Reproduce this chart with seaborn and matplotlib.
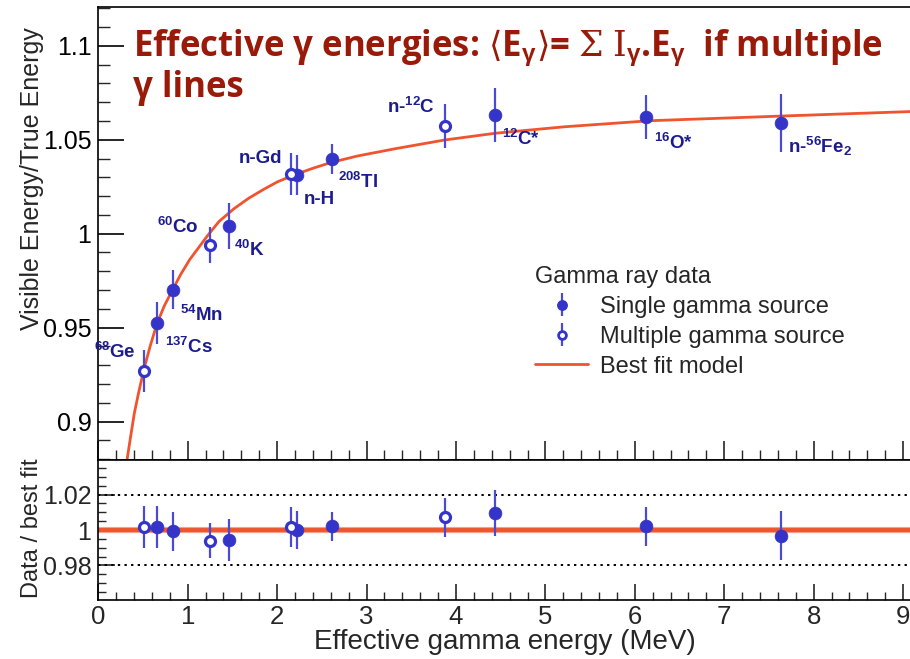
import numpy as np
import pandas as pd
import matplotlib
matplotlib.use("Agg")
import matplotlib.pyplot as plt
from matplotlib.ticker import MultipleLocator, FixedLocator, FuncFormatter
import seaborn as sns

# ---------------- data ----------------
sources = ["68Ge", "137Cs", "54Mn", "60Co", "40K", "n-Gd", "n-H", "208Tl",
           "n-12C", "12C*", "16O*", "n-56Fe2"]
energy = [0.511, 0.662, 0.835, 1.25, 1.461, 2.16, 2.223, 2.614, 3.88, 4.44, 6.13, 7.64]
multiple = [True, False, False, True, False, True, False, False, True, False, False, False]
vis_ratio = [0.9271, 0.9527, 0.9701, 0.9940, 1.0041, 1.0316, 1.0312, 1.0397,
             1.0574, 1.0632, 1.0620, 1.0589]
vis_err = [0.0111, 0.0112, 0.0104, 0.0097, 0.0121, 0.0112, 0.0106, 0.0082,
           0.0116, 0.0142, 0.0117, 0.0152]
data_over_fit = [1.0018, 1.0018, 0.9994, 0.9940, 0.9944, 1.0018, 1.0000, 1.0020,
                 1.0071, 1.0097, 1.0020, 0.9968]
data_over_fit_err = [0.012, 0.012, 0.011, 0.0098, 0.0117, 0.0112, 0.011, 0.008,
                     0.0109, 0.013, 0.011, 0.0137]
fit_energy = [0.321, 0.358, 0.403, 0.449, 0.508, 0.579, 0.657, 0.740, 0.835, 0.92,
              1.022, 1.216, 1.35, 1.515, 1.68, 1.850, 2.0, 2.185, 2.4, 2.596, 2.895,
              3.308, 3.867, 4.433, 5.220, 6.171, 7.654, 9.10]
fit_ratio = [0.8796, 0.891, 0.9045, 0.915, 0.9275, 0.940, 0.9523, 0.9618, 0.9705,
             0.9782, 0.9862, 0.9986, 1.0065, 1.0132, 1.0188, 1.0236, 1.0275, 1.0312,
             1.0348, 1.0378, 1.0413, 1.0451, 1.0498, 1.0534, 1.0569, 1.0601, 1.0626,
             1.0650]
unity_energy = [0.0, 9.10]
unity_ratio = [1.0, 1.0]

point_labels = [r"$^{\mathbf{68}}$Ge", r"$^{\mathbf{137}}$Cs", r"$^{\mathbf{54}}$Mn",
                r"$^{\mathbf{60}}$Co", r"$^{\mathbf{40}}$K", "n-Gd", "n-H",
                r"$^{\mathbf{208}}$Tl", r"n-$^{\mathbf{12}}$C", r"$^{\mathbf{12}}$C*",
                r"$^{\mathbf{16}}$O*", r"n-$^{\mathbf{56}}$Fe$_{\mathbf{2}}$"]

df = pd.DataFrame({"source": sources, "energy": energy, "multiple": multiple,
                   "ratio": vis_ratio, "err": vis_err,
                   "dof": data_over_fit, "dof_err": data_over_fit_err})

# ---------------- style ----------------
sns.set_theme(style="ticks")
plt.rcParams["font.family"] = ["Liberation Sans", "DejaVu Sans"]
plt.rcParams["mathtext.fontset"] = "custom"
plt.rcParams["mathtext.rm"] = "DejaVu Serif"
plt.rcParams["mathtext.it"] = "DejaVu Serif:italic"
plt.rcParams["mathtext.bf"] = "Liberation Sans:bold"

BLUE = "#3434c8"
EBLUE = "#4a4ad6"
RED = "#f0542e"
LABEL = "#1c1c8e"
TITLE = "#9a1a0a"

W, H = 910, 659
fig = plt.figure(figsize=(W / 100, H / 100), dpi=100)
left = 98.3 / W
right_px = 912
ax = fig.add_axes([left, (H - 460) / H, (right_px - 98.3) / W, 453 / H])
axr = fig.add_axes([left, (H - 600) / H, (right_px - 98.3) / W, 140 / H])

single = df[~df["multiple"]]
multi = df[df["multiple"]]


def draw_points(a, ycol, ecol):
    a.errorbar(df["energy"], df[ycol], yerr=df[ecol], fmt="none", ecolor=EBLUE,
               elinewidth=1.6, capsize=0, zorder=3)
    sns.scatterplot(data=single, x="energy", y=ycol, ax=a, s=85, color=BLUE,
                    edgecolor=BLUE, linewidth=0.5, legend=False, zorder=4)
    sns.scatterplot(data=multi, x="energy", y=ycol, ax=a, s=52, facecolor="white",
                    edgecolor=BLUE, linewidth=2.3, legend=False, zorder=4)


# ---------------- top panel ----------------
sns.lineplot(x=fit_energy, y=fit_ratio, ax=ax, color=RED, linewidth=2.0,
             sort=False, estimator=None, zorder=2)
fit_line = ax.get_lines()[-1]
draw_points(ax, "ratio", "err")

ax.set_xlim(0, 9.10)
ax.set_ylim(0.8796, 1.1206)
ax.set_xlabel("")
ax.set_ylabel("")
ax.yaxis.set_major_locator(FixedLocator([0.9, 0.95, 1.0, 1.05, 1.1]))
ax.yaxis.set_minor_locator(MultipleLocator(0.01))
ax.xaxis.set_major_locator(MultipleLocator(1))
ax.xaxis.set_minor_locator(MultipleLocator(0.2))
ax.yaxis.set_major_formatter(FuncFormatter(lambda v, p: f"{v:g}"))
ax.tick_params(axis="y", which="major", direction="in", length=19, width=1.2,
               labelsize=18, pad=5, colors="black")
ax.tick_params(axis="y", which="minor", direction="in", length=8.5, width=1.0)
ax.tick_params(axis="x", which="major", direction="in", length=14, width=1.2,
               labelbottom=False)
ax.tick_params(axis="x", which="minor", direction="in", length=7, width=1.0)
for s in ax.spines.values():
    s.set_linewidth(1.2)
    s.set_color("black")

ax.text(-0.082, 0.622, "Visible Energy/True Energy", transform=ax.transAxes,
        rotation=90, ha="center", va="center", fontsize=18)

# point annotations (baseline anchored)
ann = [
    (0.414, 0.9337, "right"), (0.750, 0.9367, "left"), (0.910, 0.9537, "left"),
    (0.657, 1.0002, "left"), (1.514, 0.9881, "left"), (2.055, 1.0374, "right"),
    (2.297, 1.0158, "left"), (2.685, 1.0241, "left"), (3.766, 1.0640, "right"),
    (4.520, 1.0472, "left"), (6.216, 1.0449, "left"), (7.718, 1.0431, "left"),
]
for txt, (xa, ya, ha) in zip(point_labels, ann):
    ax.text(xa, ya, txt, ha=ha, va="baseline", fontsize=13.5, fontweight="bold",
            color=LABEL, clip_on=False, zorder=5)

# legend
h_single = ax.errorbar([np.nan], [np.nan], yerr=[0.01], fmt="o", ms=8.5, color=BLUE,
                       ecolor=EBLUE, elinewidth=1.6)
h_multi = ax.errorbar([np.nan], [np.nan], yerr=[0.01], fmt="o", ms=7, mfc="white",
                      mec=BLUE, mew=2.0, color=BLUE, ecolor=EBLUE, elinewidth=1.6)
leg = ax.legend([h_single, h_multi, fit_line],
                ["Single gamma source", "Multiple gamma source", "Best fit model"],
                title="Gamma ray data", loc="upper left",
                bbox_to_anchor=((535 - 98.3) / (right_px - 98.3), (460 - 266) / 453),
                frameon=False, fontsize=17, title_fontsize=17, handlelength=2.25,
                handletextpad=0.5, labelspacing=0.335, borderpad=0, borderaxespad=0,
                alignment="left", markerscale=0.8)

# title text
fig.text(133 / W, 1 - 56.5 / H,
         r"Effective γ energies: $\langle$E$_{\mathbf{\gamma}}\rangle$= "
         r"$\mathrm{\Sigma}$ $\mathrm{I}_{\mathbf{\gamma}}$.E$_{\mathbf{\gamma}}$  if multiple",
         ha="left", va="baseline", fontsize=25, fontweight="bold", color=TITLE,
         family="Open Sans")
fig.text(133 / W, 1 - 97 / H, "γ lines", ha="left", va="baseline", fontsize=25,
         fontweight="bold", color=TITLE, family="Open Sans")

# ---------------- ratio panel ----------------
sns.lineplot(x=unity_energy, y=unity_ratio, ax=axr, color="#f7a088", linewidth=4.4,
             sort=False, estimator=None, zorder=1)
sns.lineplot(x=unity_energy, y=unity_ratio, ax=axr, color=RED, linewidth=2.8,
             sort=False, estimator=None, zorder=2)
for yv in (0.98, 1.02):
    axr.axhline(yv, color="black", linestyle=(0, (1.2, 2.2)), linewidth=1.4, zorder=1)
draw_points(axr, "dof", "dof_err")

axr.set_xlim(0, 9.10)
axr.set_ylim(0.9604, 1.0396)
axr.set_ylabel("")
axr.yaxis.set_major_locator(FixedLocator([0.98, 1.0, 1.02]))
axr.yaxis.set_minor_locator(MultipleLocator(0.005))
axr.xaxis.set_major_locator(FixedLocator(list(range(10))))
axr.xaxis.set_minor_locator(MultipleLocator(0.2))
axr.yaxis.set_major_formatter(FuncFormatter(lambda v, p: f"{v:g}"))
axr.xaxis.set_major_formatter(FuncFormatter(lambda v, p: f"{v:g}"))
axr.tick_params(axis="y", which="major", direction="in", length=12.5, width=1.2,
                labelsize=18, pad=5)
axr.tick_params(axis="y", which="minor", direction="in", length=6, width=1.0)
axr.tick_params(axis="x", which="major", direction="in", length=11.5, width=1.2,
                labelsize=18.5, pad=3.5)
axr.tick_params(axis="x", which="minor", direction="in", length=5.5, width=1.0)
for s in axr.spines.values():
    s.set_linewidth(1.2)
    s.set_color("black")
axr.set_xlabel("")
axr.text(0.5, -0.30, "Effective gamma energy (MeV)", transform=axr.transAxes,
         ha="center", va="center", fontsize=20)
axr.text(-0.082, 0.514, "Data / best fit", transform=axr.transAxes, rotation=90,
         ha="center", va="center", fontsize=17)

fig.savefig("out.png", dpi=100)
